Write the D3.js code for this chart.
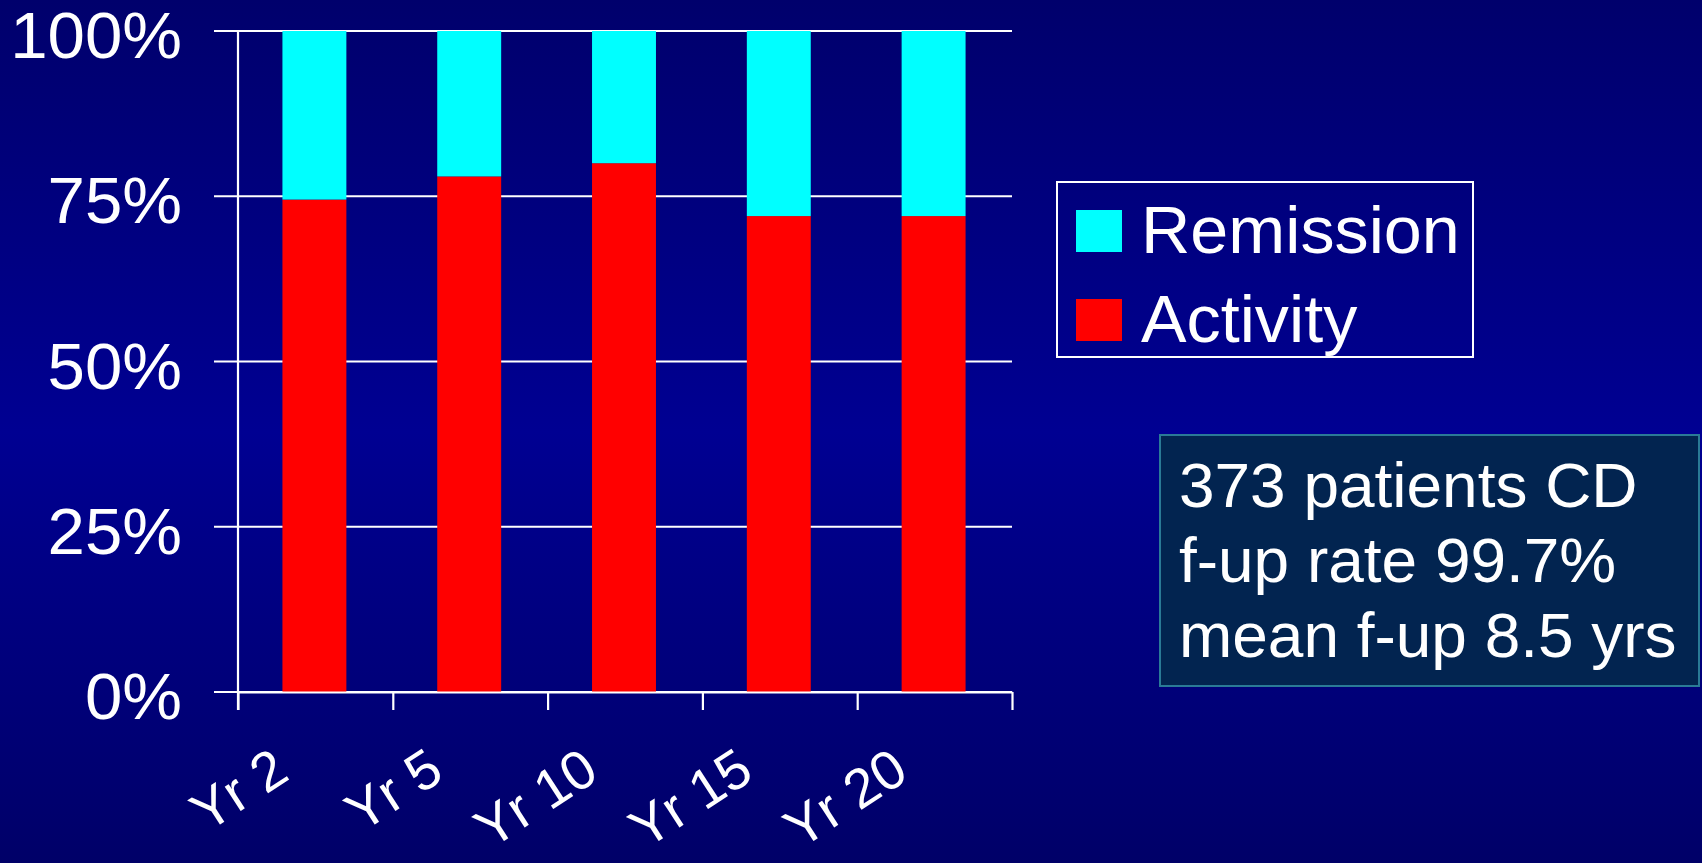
<!DOCTYPE html>
<html>
<head>
<meta charset="utf-8">
<script src="https://cdn.jsdelivr.net/npm/d3@7"></script>
<style>
  html, body { margin: 0; padding: 0; background: #00007a; overflow: hidden; }
  svg { display: block; }
  text { font-family: "Liberation Sans", Arial, Helvetica, sans-serif; fill: #ffffff; }
</style>
</head>
<body>
<svg id="chart" width="1702" height="863"></svg>
<script>
// Follow-up years shown on the x axis
const categories = ["Yr 2", "Yr 5", "Yr 10", "Yr 15", "Yr 20"];
// Share of patients (%) in each state at that follow-up year
const activity  = [74.5, 78, 80, 72, 72];
const remission = [25.5, 22, 20, 28, 28];
const yTicks = [0, 25, 50, 75, 100];
const seriesNames = ["Remission", "Activity"];
const seriesColors = { Remission: "#00ffff", Activity: "#ff0000" };
const noteLines = ["373 patients CD", "f-up rate 99.7%", "mean f-up 8.5 yrs"];

const W = 1702, H = 863;
const svg = d3.select("#chart");

// Slide background: dark navy fading to a brighter blue in the middle
const defs = svg.append("defs");
const grad = defs.append("linearGradient")
  .attr("id", "bg").attr("x1", 0).attr("y1", 0).attr("x2", 0).attr("y2", 1);
grad.append("stop").attr("offset", 0).attr("stop-color", "#00006c");
grad.append("stop").attr("offset", 0.5).attr("stop-color", "#000092");
grad.append("stop").attr("offset", 1).attr("stop-color", "#000068");
svg.append("rect").attr("width", W).attr("height", H).attr("fill", "url(#bg)");

// Plot area
const plot = { left: 238, right: 1012, top: 31, bottom: 692 };

const x = d3.scaleBand()
  .domain(categories)
  .range([plot.left, plot.right])
  .paddingInner(0.587)
  .paddingOuter(0.2935);

const y = d3.scaleLinear().domain([0, 100]).range([plot.bottom, plot.top]);

// Horizontal gridlines (extend left of the axis as tick marks)
svg.append("g").selectAll("line")
  .data(yTicks)
  .join("line")
  .attr("x1", plot.left - 24).attr("x2", plot.right)
  .attr("y1", d => y(d)).attr("y2", d => y(d))
  .attr("stroke", "#ffffff").attr("stroke-width", 2.2);

// Stacked bars: activity at the bottom, remission on top
const stackData = categories.map((c, i) => ({ cat: c, Activity: activity[i], Remission: remission[i] }));
const stacked = d3.stack().keys(["Activity", "Remission"])(stackData);

svg.append("g").selectAll("g")
  .data(stacked)
  .join("g")
  .attr("fill", d => seriesColors[d.key])
  .selectAll("rect")
  .data(d => d)
  .join("rect")
  .attr("x", d => x(d.data.cat) - 1)
  .attr("width", x.bandwidth())
  .attr("y", d => y(d[1]))
  .attr("height", d => y(d[0]) - y(d[1]));

// Y axis line
svg.append("line")
  .attr("x1", plot.left).attr("x2", plot.left)
  .attr("y1", plot.top).attr("y2", plot.bottom + 18)
  .attr("stroke", "#ffffff").attr("stroke-width", 2.2);

// X axis with tick marks at the category boundaries
const xEdges = d3.scaleLinear().domain([0, categories.length]).range([plot.left, plot.right]);
const xAxis = d3.axisBottom(xEdges)
  .tickValues(d3.range(categories.length + 1))
  .tickSize(18)
  .tickSizeOuter(0)
  .tickFormat("");
const xAxisG = svg.append("g")
  .attr("transform", `translate(0,${plot.bottom})`)
  .call(xAxis);
xAxisG.select(".domain").attr("stroke", "#ffffff").attr("stroke-width", 2.2);
xAxisG.selectAll(".tick line").attr("stroke", "#ffffff").attr("stroke-width", 2.2);

// Y tick labels (slightly wide lettering)
svg.append("g").selectAll("text")
  .data(yTicks)
  .join("text")
  .attr("text-anchor", "end")
  .attr("font-size", 64)
  .attr("transform", d => `translate(182,${y(d) + 27}) scale(1.05,1)`)
  .text(d => d + "%");

// Rotated category labels
svg.append("g").selectAll("text")
  .data(categories)
  .join("text")
  .attr("text-anchor", "end")
  .attr("font-size", 55)
  .attr("transform", d => `translate(${x(d) + x.bandwidth() / 2 - 24},${plot.bottom + 86}) rotate(-33)`)
  .text(d => d);

// Legend
const legend = svg.append("g");
legend.append("rect")
  .attr("x", 1057).attr("y", 182).attr("width", 416).attr("height", 175)
  .attr("fill", "none").attr("stroke", "#ffffff").attr("stroke-width", 2);
const legendRows = legend.selectAll("g")
  .data(seriesNames)
  .join("g")
  .attr("transform", (d, i) => `translate(1076,${210 + i * 89})`);
legendRows.append("rect")
  .attr("width", 46).attr("height", 42)
  .attr("fill", d => seriesColors[d]);
legendRows.append("text")
  .attr("font-size", 66)
  .attr("transform", "translate(65,43) scale(1.035,1)")
  .text(d => d);

// Study note box
const note = svg.append("g");
note.append("rect")
  .attr("x", 1160).attr("y", 435).attr("width", 539).attr("height", 251)
  .attr("fill", "#022450").attr("stroke", "#2a7a96").attr("stroke-width", 2);
note.selectAll("text")
  .data(noteLines)
  .join("text")
  .attr("font-size", 63)
  .attr("transform", (d, i) => `translate(1179,${507 + i * 75}) scale(1.015,1)`)
  .text(d => d);
</script>
</body>
</html>
